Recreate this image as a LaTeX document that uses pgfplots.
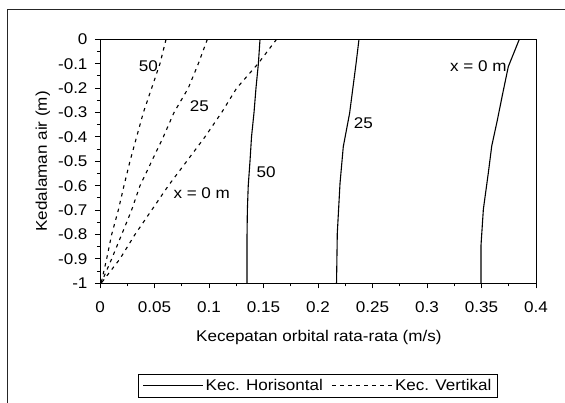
\documentclass[border=0pt]{standalone}
\usepackage{fontspec}
\setmainfont{Liberation Sans}[FakeStretch=1.1]
\usepackage{pgfplots}
\pgfplotsset{compat=1.18}

\newcommand{\chartfont}{\fontsize{15.5bp}{18bp}\selectfont}

\begin{document}
\begin{tikzpicture}
\begin{axis}[
    at={(100bp,119.7bp)}, anchor=south west,
    scale only axis, width=436bp, height=244bp,
    xmin=0, xmax=0.4, ymin=-1, ymax=0,
    xtick={0,0.05,0.1,0.15,0.2,0.25,0.3,0.35,0.4},
    xticklabels={0,0.05,0.1,0.15,0.2,0.25,0.3,0.35,0.4},
    ytick={-1,-0.9,-0.8,-0.7,-0.6,-0.5,-0.4,-0.3,-0.2,-0.1,0},
    yticklabels={-1,-0.9,-0.8,-0.7,-0.6,-0.5,-0.4,-0.3,-0.2,-0.1,0},
    minor x tick num=1, minor y tick num=1,
    tick align=outside, xtick pos=left, ytick pos=left,
    major tick length=5bp, minor tick length=3bp,
    tick style={black, line width=0.8bp},
    axis line style={line width=0.9bp},
    /pgf/number format/assume math mode=true,
    font=\chartfont,
    tick label style={font=\chartfont},
    xticklabel style={yshift=-10bp},
    yticklabel style={xshift=-4bp},
    label style={font=\chartfont},
    xlabel={Kecepatan orbital rata-rata (m/s)},
    ylabel={Kedalaman air (m)},
    xlabel style={at={(axis description cs:0.502,-0.224)}, anchor=center},
    ylabel style={at={(axis description cs:-0.131,0.5)}, anchor=center},
    legend columns=2,
    legend style={at={(0.5,-0.42)}, anchor=center, font=\chartfont,
        draw=black, line width=0.8bp, inner xsep=4bp, inner ysep=3bp,
        /tikz/every even column/.append style={column sep=7bp}},
    legend image code/.code={\draw[#1] (0bp,0bp) -- (60bp,0bp);},
    vline/.style={black, line width=1.1bp, dash pattern=on 3.5bp off 4.5bp},
    hline/.style={black, line width=1.1bp},
]
% horizontal velocity (solid)
\addplot[hline] coordinates {(0.3847,0) (0.3746,-0.112) (0.369,-0.232) (0.3646,-0.33)
    (0.3594,-0.437) (0.3563,-0.546) (0.3517,-0.697) (0.3495,-0.847) (0.3495,-1)};
\addlegendentry{Kec. Horisontal}
% vertical velocity (dashed)
\addplot[vline] coordinates {(0.162,0) (0.145,-0.1) (0.1254,-0.2) (0.1116,-0.3) (0.0963,-0.4)
    (0.0795,-0.5) (0.0627,-0.6) (0.0474,-0.7) (0.0321,-0.8) (0.0183,-0.9) (0.001,-1)};
\addlegendentry{Kec. Vertikal}
\addplot[hline, forget plot] coordinates {(0.2376,0) (0.2349,-0.1) (0.229,-0.303) (0.2232,-0.44)
    (0.2202,-0.59) (0.2177,-0.795) (0.217,-1)};
\addplot[hline, forget plot] coordinates {(0.1468,0) (0.1453,-0.1) (0.1431,-0.2) (0.1413,-0.3)
    (0.139,-0.4) (0.1376,-0.5) (0.136,-0.6) (0.1352,-0.7) (0.1349,-0.8) (0.1349,-1)};
\addplot[vline, forget plot] coordinates {(0.0985,0) (0.0902,-0.1) (0.081,-0.2) (0.0679,-0.3)
    (0.0581,-0.4) (0.0474,-0.5) (0.0367,-0.6) (0.029,-0.7) (0.0199,-0.8) (0.0107,-0.9) (0.001,-1)};
\addplot[vline, forget plot] coordinates {(0.0606,0) (0.055,-0.1) (0.0474,-0.2) (0.0398,-0.3)
    (0.0336,-0.4) (0.0275,-0.5) (0.022,-0.6) (0.0168,-0.7) (0.0107,-0.8) (0.0061,-0.9) (0.001,-1)};
% curve labels
\node[font=\chartfont] at (axis cs:0.0443,-0.112) {50};
\node[font=\chartfont] at (axis cs:0.0911,-0.276) {25};
\node[font=\chartfont] at (axis cs:0.0933,-0.629) {x = 0 m};
\node[font=\chartfont] at (axis cs:0.1523,-0.543) {50};
\node[font=\chartfont] at (axis cs:0.2416,-0.344) {25};
\node[font=\chartfont] at (axis cs:0.3471,-0.112) {x = 0 m};
\end{axis}
% outer chart frame (only top and left edges are in view)
\draw[line width=1.2bp, black!85] (7.7bp,0bp) -- (7.7bp,393.7bp) -- (565bp,393.7bp);
\pgfresetboundingbox
\useasboundingbox (0bp,0bp) rectangle (565bp,403bp);
\end{tikzpicture}
\end{document}
